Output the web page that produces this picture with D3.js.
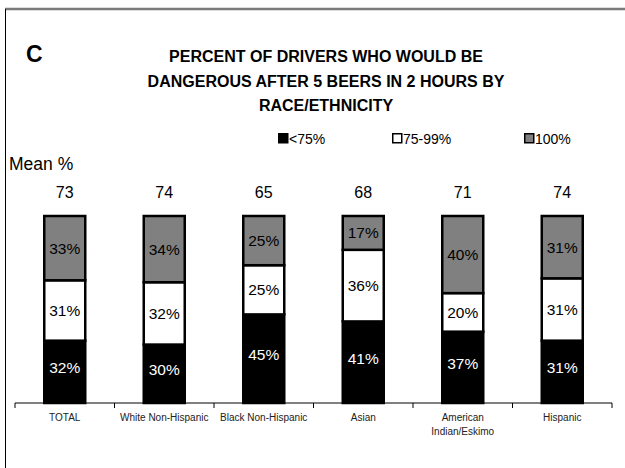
<!DOCTYPE html>
<html>
<head>
<meta charset="utf-8">
<script src="https://cdn.jsdelivr.net/npm/d3@7/dist/d3.min.js"></script>
<style>
  html, body { margin: 0; padding: 0; background: #fff; }
  svg { display: block; font-family: Arial, "Liberation Sans", sans-serif; }
</style>
</head>
<body>
<svg id="chart" width="625" height="468"></svg>
<script>
// Groups along the x axis
const categories = ["TOTAL", "White Non-Hispanic", "Black Non-Hispanic", "Asian", "American Indian/Eskimo", "Hispanic"];
// Axis label lines for each group
const categoryLabels = [["TOTAL"], ["White Non-Hispanic"], ["Black Non-Hispanic"], ["Asian"], ["American", "Indian/Eskimo"], ["Hispanic"]];
// Share of drivers in each impairment band (percent)
const below75 = [32, 30, 45, 41, 37, 31];
const from75to99 = [31, 32, 25, 36, 20, 31];
const full100 = [33, 34, 25, 17, 40, 31];
// Mean percent shown above each bar
const meanPct = [73, 74, 65, 68, 71, 74];
// Series names for the legend
const seriesNames = ["<75%", "75-99%", "100%"];

const svg = d3.select("#chart");
const fills = ["#000000", "#ffffff", "#808080"];
const labelColors = ["#ffffff", "#000000", "#000000"];
const labelShift = [-4, 0, 0];

// Frame lines
svg.append("line").attr("x1", 5).attr("x2", 625).attr("y1", 9).attr("y2", 9)
  .attr("stroke", "#7a7a7a").attr("stroke-width", 2.5);
svg.append("line").attr("x1", 5.5).attr("x2", 5.5).attr("y1", 9).attr("y2", 468)
  .attr("stroke", "#000").attr("stroke-width", 1);

// Panel letter and title
svg.append("text").attr("x", 26).attr("y", 62).attr("font-size", 23).attr("font-weight", "bold").text("C");
const titleLines = ["PERCENT OF DRIVERS WHO WOULD BE", "DANGEROUS AFTER 5 BEERS IN 2 HOURS BY", "RACE/ETHNICITY"];
svg.append("g").selectAll("text").data(titleLines).join("text")
  .attr("x", 326).attr("y", (d, i) => 62 + i * 24.5)
  .attr("text-anchor", "middle").attr("font-size", 16).attr("font-weight", "bold")
  .text(d => d);

// Legend
const legendX = [278, 392, 524];
const legend = svg.append("g").selectAll("g").data(seriesNames).join("g")
  .attr("transform", (d, i) => `translate(${legendX[i]},133)`);
legend.append("rect").attr("x", 0.75).attr("y", 0.75).attr("width", 9).attr("height", 9)
  .attr("fill", (d, i) => fills[i]).attr("stroke", "#000").attr("stroke-width", 1.5);
legend.append("text").attr("x", 11).attr("y", 10.5).attr("font-size", 14).text(d => d);

// Scales
const x = d3.scaleBand().domain(categories).range([15, 612]).paddingInner(0).paddingOuter(0);
const y = d3.scaleLinear().domain([0, 1]).range([403, 216]);
const barW = 41;

const rows = categories.map((c, i) => ({ cat: c, a: below75[i], b: from75to99[i], c: full100[i] }));
const stack = d3.stack().keys(["a", "b", "c"]).offset(d3.stackOffsetExpand);
const layers = stack(rows);

// Bars
const layerG = svg.append("g").selectAll("g").data(layers).join("g")
  .attr("fill", (d, i) => fills[i]);
layerG.selectAll("rect").data(d => d).join("rect")
  .attr("x", d => x(d.data.cat) + x.bandwidth() / 2 - barW / 2)
  .attr("width", barW)
  .attr("y", d => y(d[1]))
  .attr("height", d => y(d[0]) - y(d[1]))
  .attr("stroke", "#000").attr("stroke-width", 2.5);

// Segment value labels
layers.forEach((layer, li) => {
  svg.append("g").selectAll("text").data(layer).join("text")
    .attr("x", d => x(d.data.cat) + x.bandwidth() / 2)
    .attr("y", d => (y(d[0]) + y(d[1])) / 2 + 5.5 + labelShift[li])
    .attr("text-anchor", "middle").attr("font-size", 15.5)
    .attr("fill", labelColors[li])
    .text(d => d.data[layer.key] + "%");
});

// Axis
const axisG = svg.append("g").attr("transform", "translate(0,403)");
axisG.append("line").attr("x1", 15).attr("x2", 612).attr("stroke", "#000").attr("stroke-width", 1);
const tickPos = categories.map(c => x(c)).concat([x.range()[1]]);
axisG.selectAll("line.tick").data(tickPos).join("line").attr("class", "tick")
  .attr("x1", d => d).attr("x2", d => d).attr("y1", 0).attr("y2", 5)
  .attr("stroke", "#000").attr("stroke-width", 1);

// Category labels
const catG = svg.append("g").selectAll("text").data(categories).join("text")
  .attr("x", d => x(d) + x.bandwidth() / 2)
  .attr("y", 421)
  .attr("text-anchor", "middle").attr("font-size", 10).attr("fill", "#222");
catG.selectAll("tspan").data((d, i) => categoryLabels[i]).join("tspan")
  .attr("x", function () { return d3.select(this.parentNode).attr("x"); })
  .attr("dy", (d, i) => i === 0 ? 0 : 14)
  .text(d => d);

// Mean values
svg.append("text").attr("x", 9).attr("y", 170).attr("font-size", 17.5).text("Mean %");
svg.append("g").selectAll("text").data(meanPct).join("text")
  .attr("x", (d, i) => x(categories[i]) + x.bandwidth() / 2)
  .attr("y", 198).attr("text-anchor", "middle").attr("font-size", 16)
  .text(d => d);
</script>
</body>
</html>
